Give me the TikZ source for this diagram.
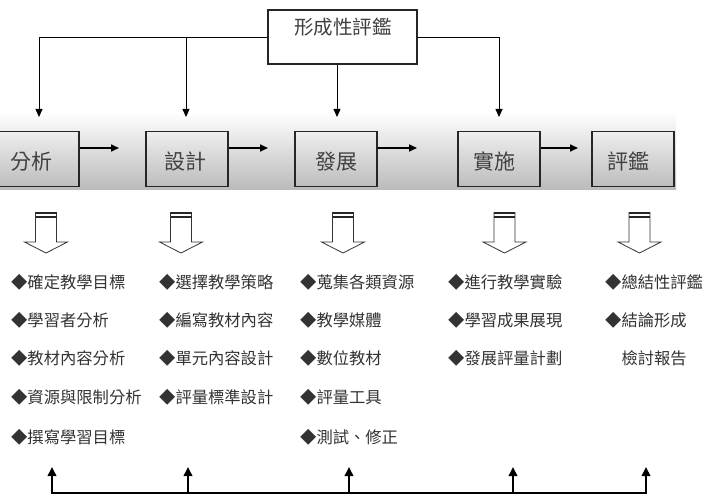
\documentclass[tikz,border=0pt]{standalone}
\usepackage{fontspec}
\setmainfont{Noto Sans CJK TC}
\usetikzlibrary{arrows.meta}
\begin{document}
\begin{tikzpicture}[x=1pt,y=-1pt,
  stepbox/.style={draw=black!85, line width=1.3pt, minimum width=82pt, minimum height=55pt, inner sep=0},
  boxtext/.style={font=\fontsize{21}{21}\selectfont, text=black!75, text height=0.88em, text depth=0.12em, inner sep=0},
  item/.style={anchor=west, inner sep=0, font=\fontsize{16.3}{16.3}\selectfont, text=black!80, text height=0.88em, text depth=0.12em},
  thinarrow/.style={line width=0.8pt, -{Triangle[length=8pt,width=7pt]}},
  flowarrow/.style={line width=1.6pt, -{Triangle[length=8pt,width=7pt]}},
  feedarrow/.style={line width=1.9pt, -{Triangle[length=9pt,width=8.5pt]}},
  hdown/.pic={
    \draw[line width=0.8pt, draw=black!80, fill=white] (-10.5,0) -- (10.5,0) -- (10.5,29.5) -- (21.5,29.5) -- (0,40.5) -- (-21.5,29.5) -- (-10.5,29.5) -- cycle;
    \draw[line width=1.6pt, draw=black!85] (-10.5,0.6) -- (10.5,0.6);
    \draw[line width=1.6pt, draw=black!85] (-10.5,4.6) -- (10.5,4.6);
  }
]
\useasboundingbox (0,0) rectangle (706,502);
\clip (0,0) rectangle (706,502);
\fill[white] (0,0) rectangle (706,502);
% gradient band
\shade[top color=white, bottom color=black!27] (0,112) rectangle (676,190);

% top box
\node[draw=black!85, line width=1.3pt, minimum width=149pt, minimum height=54pt, inner sep=0,
      label={[boxtext, font=\fontsize{19.5}{19.5}\selectfont, yshift=6pt, xshift=0.5pt]center:形成性評鑑}] (top) at (342.5,37) {};

% process boxes
\node[stepbox, minimum width=96pt, label={[boxtext, yshift=-7pt]center:分析}] (a) at (31,159) {};
\node[stepbox, label={[boxtext, yshift=-7pt, xshift=-2pt]center:設計}] (b) at (187,159) {};
\node[stepbox, label={[boxtext, yshift=-7pt]center:發展}] (c) at (336,159) {};
\node[stepbox, label={[boxtext, yshift=-7pt, xshift=-5pt]center:實施}] (d) at (499,159) {};
\node[stepbox, label={[boxtext, yshift=-7pt, xshift=-5pt]center:評鑑}] (e) at (633,159) {};

% top connectors
\coordinate (t1) at (39,117);
\coordinate (t2) at (186,117);
\coordinate (t3) at (337,117);
\coordinate (t4) at (499,117);
\coordinate (j2) at (186,37);
\draw[thinarrow] (top.west) -| (t1);
\draw[thinarrow] (j2) -- (t2);
\draw[thinarrow] (t3 |- top.south) -- (t3);
\draw[thinarrow] (top.east) -| (t4);

% flow arrows
\coordinate (f1) at (119,148);
\coordinate (f2) at (268,148);
\coordinate (f3) at (417,148);
\coordinate (f4) at (578,148);
\draw[flowarrow] (f1 -| a.east) -- (f1);
\draw[flowarrow] (f2 -| b.east) -- (f2);
\draw[flowarrow] (f3 -| c.east) -- (f3);
\draw[flowarrow] (f4 -| d.east) -- (f4);

% hollow down arrows
\pic at (46,212.5) {hdown};
\pic at (181,212.5) {hdown};
\pic at (343,212.5) {hdown};
\pic at (504.5,212.5) {hdown};
\pic at (639.5,212.5) {hdown};

% lists
\node[item] (a1) at (11,284.5) {◆確定教學目標};
\node[item] (a2) at (11,323) {◆學習者分析};
\node[item] (a3) at (11,361) {◆教材內容分析};
\node[item] (a4) at (11,400) {◆資源與限制分析};
\node[item] (a5) at (11,440) {◆撰寫學習目標};

\node[item] (b1) at (159,284.5) {◆選擇教學策略};
\node[item] (b2) at (159,323) {◆編寫教材內容};
\node[item] (b3) at (159,361) {◆單元內容設計};
\node[item] (b4) at (159,400) {◆評量標準設計};

\node[item] (c1) at (300,284.5) {◆蒐集各類資源};
\node[item] (c2) at (300,323) {◆教學媒體};
\node[item] (c3) at (300,361) {◆數位教材};
\node[item] (c4) at (300,400) {◆評量工具};
\node[item] (c5) at (300,440) {◆測試、修正};

\node[item] (d1) at (448,284.5) {◆進行教學實驗};
\node[item] (d2) at (448,323) {◆學習成果展現};
\node[item] (d3) at (448,361) {◆發展評量計劃};

\node[item] (e1) at (605,284.5) {◆總結性評鑑};
\node[item] (e2) at (605,323) {◆結論形成};
\node[item] (e3) at (605,361) {\phantom{◆}檢討報告};

% feedback line
\coordinate (g1) at (52,493);
\coordinate (g2) at (188,493);
\coordinate (g3) at (349,493);
\coordinate (g4) at (513,493);
\coordinate (g5) at (646,493);
\coordinate (u1) at (52,467);
\coordinate (u2) at (188,467);
\coordinate (u3) at (349,467);
\coordinate (u4) at (513,467);
\coordinate (u5) at (646,467);
\draw[line width=1.9pt, line cap=rect] (g1) -- (g5);
\foreach \i in {1,...,5} \draw[feedarrow] (g\i) -- (u\i);
\end{tikzpicture}
\end{document}
